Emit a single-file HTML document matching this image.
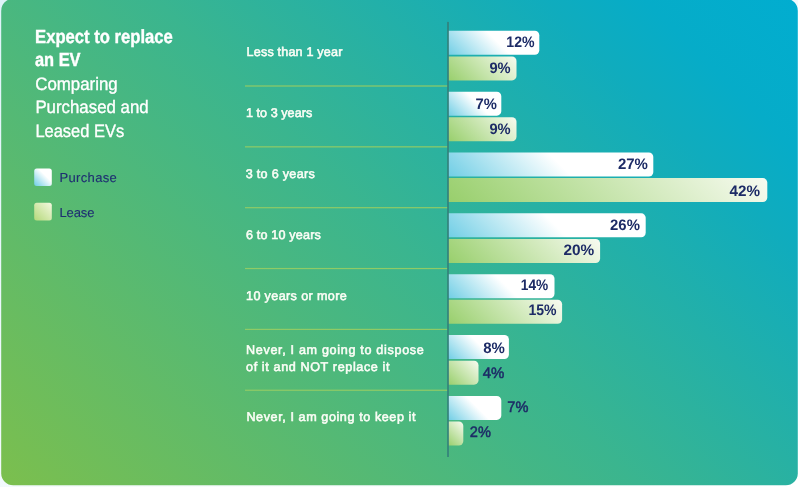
<!DOCTYPE html>
<html><head><meta charset="utf-8"><title>Expect to replace an EV</title>
<style>
html,body{margin:0;padding:0;width:798px;height:487px;overflow:hidden;background:#f3fafc;}
svg{display:block;}
text{font-family:"Liberation Sans",Arial,sans-serif;text-rendering:geometricPrecision;}
.t1{font-weight:700;font-size:19px;fill:#fff;stroke:#fff;stroke-width:0.4px;}
.t2{font-weight:400;font-size:18px;fill:#fff;stroke:#fff;stroke-width:0.35px;}
.lg{font-weight:400;font-size:13px;fill:#1f2e72;stroke:#1f2e72;stroke-width:0.12px;}
.cat{font-weight:400;font-size:12.6px;fill:#fbfdf6;stroke:#fbfdf6;stroke-width:0.55px;}
.val{font-weight:700;font-size:15.2px;text-rendering:geometricPrecision;fill:#1d2b66;}
.valo{font-weight:400;font-size:15.2px;text-rendering:geometricPrecision;fill:#1d2b66;stroke:#1d2b66;stroke-width:0.5px;}
</style></head><body>
<svg width="798" height="487" viewBox="0 0 798 487">
<defs>
<linearGradient id="pg" x1="0" y1="0" x2="1" y2="1">
  <stop offset="0" stop-color="#dff3f9"/><stop offset="0.6" stop-color="#f6fbfd"/><stop offset="1" stop-color="#ffffff"/>
</linearGradient>
<linearGradient id="bg" gradientUnits="userSpaceOnUse" x1="77.8" y1="564.7" x2="720.2" y2="-77.7">
  <stop offset="0" stop-color="rgb(124,191,77)"/>
  <stop offset="0.5" stop-color="rgb(58,181,143)"/>
  <stop offset="0.8" stop-color="rgb(16,172,189)"/>
  <stop offset="0.88" stop-color="rgb(6,172,200)"/>
  <stop offset="1" stop-color="rgb(1,173,208)"/>
</linearGradient>
</defs>
<rect x="0" y="0" width="798" height="487" fill="url(#pg)"/>
<rect x="1.2" y="-1.3" width="796.6" height="486.5" rx="12" fill="url(#bg)"/>

<text class="t1" x="35.1" y="42.7" textLength="137.78" lengthAdjust="spacingAndGlyphs">Expect to replace</text>
<text class="t1" x="34.9" y="65.9" textLength="45.69" lengthAdjust="spacingAndGlyphs">an EV</text>
<text class="t2" x="35.2" y="89.7" textLength="82.58" lengthAdjust="spacingAndGlyphs">Comparing</text>
<text class="t2" x="35.4" y="113" textLength="113.22" lengthAdjust="spacingAndGlyphs">Purchased and</text>
<text class="t2" x="35.4" y="136.6" textLength="88.8" lengthAdjust="spacingAndGlyphs">Leased EVs</text>
<defs><linearGradient id="gp0" gradientUnits="userSpaceOnUse" x1="464.9" y1="71.6" x2="522.5" y2="14"><stop offset="0" stop-color="#70cee5"/><stop offset="0.54" stop-color="#ffffff"/><stop offset="1" stop-color="#ffffff"/></linearGradient><linearGradient id="gl0" gradientUnits="userSpaceOnUse" x1="459.2" y1="91.5" x2="505.4" y2="45.3"><stop offset="0" stop-color="#98cf6c"/><stop offset="1" stop-color="#f8fbf1"/></linearGradient><linearGradient id="gp1" gradientUnits="userSpaceOnUse" x1="455.4" y1="122.95" x2="494" y2="84.35"><stop offset="0" stop-color="#70cee5"/><stop offset="0.54" stop-color="#ffffff"/><stop offset="1" stop-color="#ffffff"/></linearGradient><linearGradient id="gl1" gradientUnits="userSpaceOnUse" x1="459.2" y1="152.35" x2="505.4" y2="106.15"><stop offset="0" stop-color="#98cf6c"/><stop offset="1" stop-color="#f8fbf1"/></linearGradient><linearGradient id="gp2" gradientUnits="userSpaceOnUse" x1="493.4" y1="221.8" x2="608" y2="107.2"><stop offset="0" stop-color="#70cee5"/><stop offset="0.54" stop-color="#ffffff"/><stop offset="1" stop-color="#ffffff"/></linearGradient><linearGradient id="gl2" gradientUnits="userSpaceOnUse" x1="521.9" y1="275.9" x2="693.5" y2="104.3"><stop offset="0" stop-color="#98cf6c"/><stop offset="1" stop-color="#f8fbf1"/></linearGradient><linearGradient id="gp3" gradientUnits="userSpaceOnUse" x1="491.5" y1="280.75" x2="602.3" y2="169.95"><stop offset="0" stop-color="#70cee5"/><stop offset="0.54" stop-color="#ffffff"/><stop offset="1" stop-color="#ffffff"/></linearGradient><linearGradient id="gl3" gradientUnits="userSpaceOnUse" x1="480.1" y1="294.95" x2="568.1" y2="206.95"><stop offset="0" stop-color="#98cf6c"/><stop offset="1" stop-color="#f8fbf1"/></linearGradient><linearGradient id="gp4" gradientUnits="userSpaceOnUse" x1="468.7" y1="318.8" x2="533.9" y2="253.6"><stop offset="0" stop-color="#70cee5"/><stop offset="0.54" stop-color="#ffffff"/><stop offset="1" stop-color="#ffffff"/></linearGradient><linearGradient id="gl4" gradientUnits="userSpaceOnUse" x1="470.6" y1="346.3" x2="539.6" y2="277.3"><stop offset="0" stop-color="#98cf6c"/><stop offset="1" stop-color="#f8fbf1"/></linearGradient><linearGradient id="gp5" gradientUnits="userSpaceOnUse" x1="457.3" y1="368.25" x2="499.7" y2="325.85"><stop offset="0" stop-color="#70cee5"/><stop offset="0.54" stop-color="#ffffff"/><stop offset="1" stop-color="#ffffff"/></linearGradient><linearGradient id="gl5" gradientUnits="userSpaceOnUse" x1="449.7" y1="386.25" x2="476.9" y2="359.05"><stop offset="0" stop-color="#98cf6c"/><stop offset="1" stop-color="#f8fbf1"/></linearGradient><linearGradient id="gp6" gradientUnits="userSpaceOnUse" x1="455.4" y1="427.2" x2="494" y2="388.6"><stop offset="0" stop-color="#70cee5"/><stop offset="0.54" stop-color="#ffffff"/><stop offset="1" stop-color="#ffffff"/></linearGradient><linearGradient id="gl6" gradientUnits="userSpaceOnUse" x1="445.9" y1="443.3" x2="465.5" y2="423.7"><stop offset="0" stop-color="#98cf6c"/><stop offset="1" stop-color="#f8fbf1"/></linearGradient><linearGradient id="lgp" gradientUnits="userSpaceOnUse" x1="34.2" y1="186" x2="51.8" y2="168.4"><stop offset="0" stop-color="#6ccde6"/><stop offset="0.62" stop-color="#ffffff"/><stop offset="1" stop-color="#ffffff"/></linearGradient><linearGradient id="lgl" gradientUnits="userSpaceOnUse" x1="34.2" y1="220.4" x2="51.8" y2="202.8"><stop offset="0" stop-color="#b4d97a"/><stop offset="1" stop-color="#f4f8e0"/></linearGradient></defs>
<rect x="245" y="85.4" width="203" height="1.2" fill="#90cb66"/>
<rect x="245" y="146.25" width="203" height="1.2" fill="#90cb66"/>
<rect x="245" y="207.1" width="203" height="1.2" fill="#90cb66"/>
<rect x="245" y="267.95" width="203" height="1.2" fill="#90cb66"/>
<rect x="245" y="328.8" width="203" height="1.2" fill="#90cb66"/>
<rect x="245" y="389.65" width="203" height="1.2" fill="#90cb66"/>
<path d="M448.1,30.8 H534.8 A4.5,4.5 0 0 1 539.3,35.3 V50.3 A4.5,4.5 0 0 1 534.8,54.8 H448.1 Z" fill="url(#gp0)"/>
<path d="M448.1,56.4 H512 A4.5,4.5 0 0 1 516.5,60.9 V75.9 A4.5,4.5 0 0 1 512,80.4 H448.1 Z" fill="url(#gl0)"/>
<path d="M448.1,91.65 H496.8 A4.5,4.5 0 0 1 501.3,96.15 V111.15 A4.5,4.5 0 0 1 496.8,115.65 H448.1 Z" fill="url(#gp1)"/>
<path d="M448.1,117.25 H512 A4.5,4.5 0 0 1 516.5,121.75 V136.75 A4.5,4.5 0 0 1 512,141.25 H448.1 Z" fill="url(#gl1)"/>
<path d="M448.1,152.5 H648.8 A4.5,4.5 0 0 1 653.3,157 V172 A4.5,4.5 0 0 1 648.8,176.5 H448.1 Z" fill="url(#gp2)"/>
<path d="M448.1,178.1 H762.8 A4.5,4.5 0 0 1 767.3,182.6 V197.6 A4.5,4.5 0 0 1 762.8,202.1 H448.1 Z" fill="url(#gl2)"/>
<path d="M448.1,213.35 H641.2 A4.5,4.5 0 0 1 645.7,217.85 V232.85 A4.5,4.5 0 0 1 641.2,237.35 H448.1 Z" fill="url(#gp3)"/>
<path d="M448.1,238.95 H595.6 A4.5,4.5 0 0 1 600.1,243.45 V258.45 A4.5,4.5 0 0 1 595.6,262.95 H448.1 Z" fill="url(#gl3)"/>
<path d="M448.1,274.2 H550 A4.5,4.5 0 0 1 554.5,278.7 V293.7 A4.5,4.5 0 0 1 550,298.2 H448.1 Z" fill="url(#gp4)"/>
<path d="M448.1,299.8 H557.6 A4.5,4.5 0 0 1 562.1,304.3 V319.3 A4.5,4.5 0 0 1 557.6,323.8 H448.1 Z" fill="url(#gl4)"/>
<path d="M448.1,335.05 H504.4 A4.5,4.5 0 0 1 508.9,339.55 V354.55 A4.5,4.5 0 0 1 504.4,359.05 H448.1 Z" fill="url(#gp5)"/>
<path d="M448.1,360.65 H474 A4.5,4.5 0 0 1 478.5,365.15 V380.15 A4.5,4.5 0 0 1 474,384.65 H448.1 Z" fill="url(#gl5)"/>
<path d="M448.1,395.9 H496.8 A4.5,4.5 0 0 1 501.3,400.4 V415.4 A4.5,4.5 0 0 1 496.8,419.9 H448.1 Z" fill="url(#gp6)"/>
<path d="M448.1,421.5 H458.8 A4.5,4.5 0 0 1 463.3,426 V441 A4.5,4.5 0 0 1 458.8,445.5 H448.1 Z" fill="url(#gl6)"/>
<rect x="447.2" y="21.9" width="1.6" height="435.1" fill="#337f7a"/>
<rect x="34.2" y="168.4" width="17.6" height="17.6" rx="2.5" fill="url(#lgp)"/>
<rect x="34.2" y="202.8" width="17.6" height="17.6" rx="2.5" fill="url(#lgl)"/>
<text class="val" x="506.3" y="46.8" textLength="28.28" lengthAdjust="spacingAndGlyphs">12%</text>
<text class="val" x="489.4" y="73.1" textLength="21.23" lengthAdjust="spacingAndGlyphs">9%</text>
<text class="val" x="475.5" y="108.5" textLength="21.33" lengthAdjust="spacingAndGlyphs">7%</text>
<text class="val" x="489.4" y="133.5" textLength="21.23" lengthAdjust="spacingAndGlyphs">9%</text>
<text class="val" x="617.9" y="169.4" textLength="29.98" lengthAdjust="spacingAndGlyphs">27%</text>
<text class="val" x="729.5" y="195.6" textLength="30.48" lengthAdjust="spacingAndGlyphs">42%</text>
<text class="val" x="610.1" y="229.7" textLength="29.78" lengthAdjust="spacingAndGlyphs">26%</text>
<text class="val" x="563.5" y="254.7" textLength="30.78" lengthAdjust="spacingAndGlyphs">20%</text>
<text class="val" x="520.8" y="289.7" textLength="27.38" lengthAdjust="spacingAndGlyphs">14%</text>
<text class="val" x="528.5" y="315.3" textLength="28.08" lengthAdjust="spacingAndGlyphs">15%</text>
<text class="val" x="483.3" y="352.8" textLength="21.63" lengthAdjust="spacingAndGlyphs">8%</text>
<text class="valo" x="482.7" y="377.8" textLength="21.63" lengthAdjust="spacingAndGlyphs">4%</text>
<text class="valo" x="507.3" y="411.6" textLength="21.03" lengthAdjust="spacingAndGlyphs">7%</text>
<text class="valo" x="469.8" y="437.3" textLength="21.03" lengthAdjust="spacingAndGlyphs">2%</text>
<text class="cat" x="246.6" y="56" textLength="95.73" lengthAdjust="spacing">Less than 1 year</text>
<text class="cat" x="246" y="117" textLength="66.22" lengthAdjust="spacing">1 to 3 years</text>
<text class="cat" x="245.7" y="178" textLength="69.02" lengthAdjust="spacing">3 to 6 years</text>
<text class="cat" x="246" y="239" textLength="74.83" lengthAdjust="spacing">6 to 10 years</text>
<text class="cat" x="246" y="300" textLength="100.78" lengthAdjust="spacing">10 years or more</text>
<text class="cat" x="246" y="354" textLength="177.79" lengthAdjust="spacing">Never, I am going to dispose</text>
<text class="cat" x="246" y="371" textLength="143.51" lengthAdjust="spacing">of it and NOT replace it</text>
<text class="cat" x="246.4" y="421" textLength="169.1" lengthAdjust="spacing">Never, I am going to keep it</text>
<text class="lg" x="59.5" y="181.7" textLength="57.28" lengthAdjust="spacing">Purchase</text>
<text class="lg" x="59.4" y="216.9" textLength="35.08" lengthAdjust="spacing">Lease</text>
</svg>
</body></html>
